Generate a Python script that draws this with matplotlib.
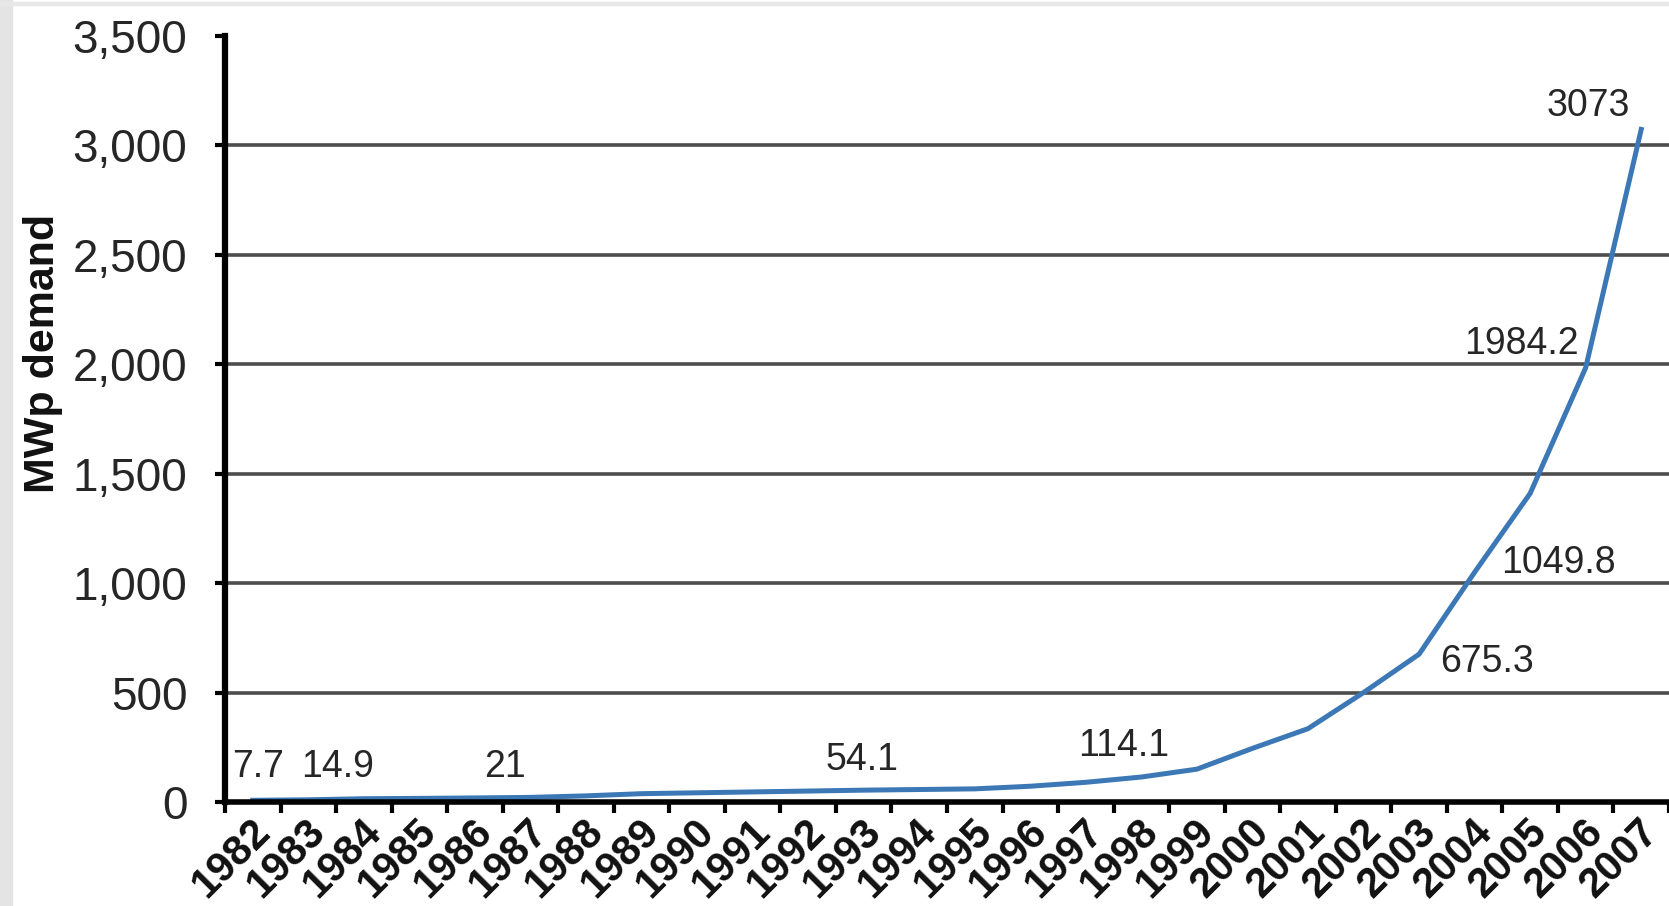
import matplotlib
matplotlib.use("Agg")
import matplotlib.pyplot as plt
import matplotlib.patches as patches
from matplotlib.transforms import ScaledTranslation
import numpy as np

plt.rcParams['font.family'] = ['Liberation Sans Narrow', 'Liberation Sans', 'DejaVu Sans']

years = [str(y) for y in range(1982, 2008)]
demand = [7.7, 10, 14.9, 16.5, 18.5, 21, 28, 38, 42, 46, 50, 54.1, 57, 60,
          72, 90, 114.1, 150, 245, 335, 500, 675.3, 1049.8, 1410, 1984.2, 3073]

# labelled points: (year, text, offset in points)
labels = [("1982", "7.7", (4, 24)),
          ("1984", "14.9", (-19, 23)),
          ("1987", "21", (-18, 22)),
          ("1993", "54.1", (-1.5, 22)),
          ("1998", "114.1", (-13, 22)),
          ("2003", "675.3", (49, -5.5)),
          ("2004", "1049.8", (60, 6.5)),
          ("2006", "1984.2", (-46, 17)),
          ("2007", "3073", (-38, 17))]

yticks = [0, 500, 1000, 1500, 2000, 2500, 3000, 3500]

fig = plt.figure(figsize=(16.69, 9.06), dpi=100)
ax = fig.add_axes([0.1348, 0.1148, 0.8652, 0.8455])

x = np.arange(len(years))
ax.plot(x, demand, color='#3b78b5', lw=3.6, solid_joinstyle='round', zorder=3)

for yr, txt, off in labels:
    i = years.index(yr)
    ax.annotate(txt, (i, demand[i]), xytext=off, textcoords='offset points',
                ha='center', va='center', fontsize=27, color='#262626', zorder=4)

ax.set_xlim(-0.5, len(years) - 0.5)
ax.set_ylim(0, 3500)

# gridlines
for yv in yticks[1:-1]:
    ax.axhline(yv, color='#4d4d4d', lw=2.6, zorder=1)

ax.set_yticks(yticks, labels=[f"{v:,}" for v in yticks])
ax.tick_params(axis='y', length=7, width=3, pad=20, labelsize=33,
               labelcolor='#262626', direction='out')

# category boundaries get the tick marks, labels sit at the centres
ax.set_xticks(np.arange(-0.5, len(years)), labels=[])
ax.set_xticks(x, labels=years, minor=True)
ax.tick_params(axis='x', which='major', length=8, width=3, direction='out')
ax.tick_params(axis='x', which='minor', length=0, pad=17, labelsize=30,
               labelcolor='#111111')
for lbl in ax.get_xticklabels(minor=True):
    lbl.set_rotation(45)
    lbl.set_ha('right')
    lbl.set_va('center')
    lbl.set_rotation_mode('anchor')
    lbl.set_fontweight('bold')
    lbl.set_transform(lbl.get_transform() + ScaledTranslation(8 / 72, 0, fig.dpi_scale_trans))

for s in ['top', 'right']:
    ax.spines[s].set_visible(False)
ax.spines['left'].set_linewidth(4.5)
ax.spines['bottom'].set_linewidth(4)
ax.spines['left'].set_zorder(5)
ax.spines['bottom'].set_zorder(5)

ax.set_ylabel("MWp demand", fontsize=31, fontweight='bold', color='#111111')
ax.yaxis.set_label_coords(-0.112, 0.585)

# pale border left over from the scan
fig.patches.append(patches.Rectangle((0, 0), 12 / 1669, 1, transform=fig.transFigure,
                                     color='#e4e4e4', zorder=0))
fig.patches.append(patches.Rectangle((0, 1 - 5 / 906), 1, 3 / 906, transform=fig.transFigure,
                                     color='#e8e8e8', zorder=0))

fig.savefig("out.png", dpi=100)
